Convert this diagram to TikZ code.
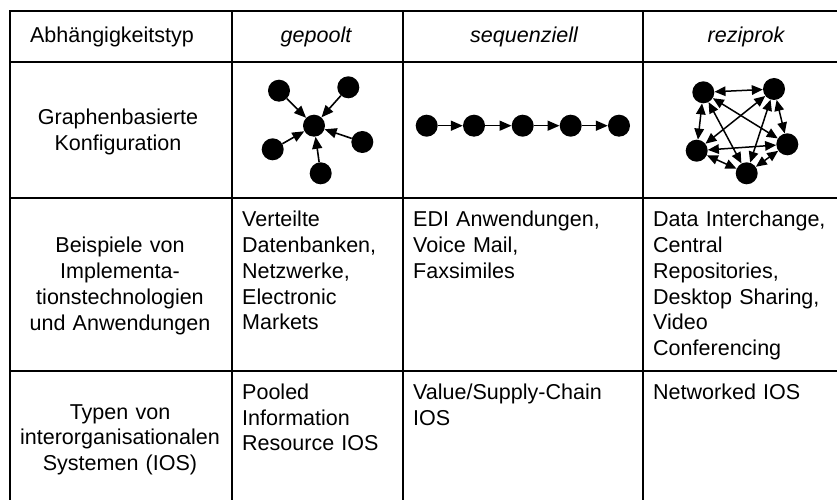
\documentclass[tikz,border=0pt]{standalone}
\usepackage{fontspec}
\setmainfont{Liberation Sans}
\usetikzlibrary{arrows.meta}

\newcommand{\cellfont}{\fontsize{21.6pt}{25.8pt}\selectfont}

\begin{document}
\begin{tikzpicture}[x=1bp,y=-1bp,
  rule/.style={line width=1.6bp,black},
  centertext/.style={inner sep=0pt,font=\cellfont,text width=215bp,align=center,anchor=base},
  headtext/.style={inner sep=0pt,font=\cellfont\itshape,anchor=base},
  lefttext/.style={inner sep=0pt,font=\cellfont,text width=260bp,align=left,anchor=base west},
  dot/.style={circle,fill=black,draw=none,inner sep=0pt,minimum size=22bp},
  link/.style={line width=1.6bp,-{Triangle[length=12bp,width=10bp]}},
  biglink/.style={line width=1.5bp,{Triangle[length=11bp,width=9.5bp]}-{Triangle[length=11bp,width=9.5bp]}}
]
\useasboundingbox (0,0) rectangle (837,500);
\clip (0,0) rectangle (837,500);

% table frame and rules
\draw[rule] (10,11) rectangle (849,503);
\draw[rule] (10,62) -- (849,62);
\draw[rule] (10,198) -- (849,198);
\draw[rule] (10,371) -- (849,371);
\draw[rule] (232,11) -- (232,503);
\draw[rule] (403,11) -- (403,503);
\draw[rule] (643,11) -- (643,503);

% header row
\node[centertext] (h0) at (112,42.5) {Abhängigkeitstyp};
\node[headtext] (h1) at (316,42.5) {gepoolt};
\node[headtext] (h2) at (524,42.5) {sequenziell};
\node[headtext] (h3) at (746,42.5) {reziprok};

% row labels
\node[centertext] (l1) at (118,124.5) {Graphenbasierte\\Konfiguration};
\node[centertext] (l2) at (120,253) {Beispiele von\\Implementa-\\tionstechnologien\\und Anwendungen};
\node[centertext] (l3) at (120,419) {Typen von\\interorganisationalen\\Systemen (IOS)};

% pooled: star towards a central node
\node[dot] (sc) at (314,125.7) {};
\node[dot] (s1) at (279,90.7) {};
\node[dot] (s2) at (348.3,87.3) {};
\node[dot] (s3) at (362.3,142) {};
\node[dot] (s4) at (320.7,173.3) {};
\node[dot] (s5) at (272.7,149.3) {};
\foreach \s in {s1,s2,s3,s4,s5} \draw[link] (\s) -- (sc);

% sequential: chain
\node[dot] (q1) at (426.7,125.7) {};
\node[dot] (q2) at (474,125.7) {};
\node[dot] (q3) at (522.7,125.7) {};
\node[dot] (q4) at (570.7,125.7) {};
\node[dot] (q5) at (619,125.7) {};
\draw[link] (q1) -- (q2);
\draw[link] (q2) -- (q3);
\draw[link] (q3) -- (q4);
\draw[link] (q4) -- (q5);

% reciprocal: complete graph
\node[dot] (r1) at (703.3,92.3) {};
\node[dot] (r2) at (774,89) {};
\node[dot] (r3) at (787.3,144.3) {};
\node[dot] (r4) at (746.7,173.3) {};
\node[dot] (r5) at (696.7,150.7) {};
\draw[biglink] (r1) -- (r2);
\draw[biglink] (r1) -- (r3);
\draw[biglink] (r1) -- (r4);
\draw[biglink] (r1) -- (r5);
\draw[biglink] (r2) -- (r3);
\draw[biglink] (r2) -- (r4);
\draw[biglink] (r2) -- (r5);
\draw[biglink] (r3) -- (r4);
\draw[biglink] (r3) -- (r5);
\draw[biglink] (r4) -- (r5);

% examples
\node[lefttext] (e1) at (242,227) {Verteilte\\Datenbanken,\\Netzwerke,\\Electronic\\Markets};
\node[lefttext] (e2) at (413,227) {EDI Anwendungen,\\Voice Mail,\\Faxsimiles};
\node[lefttext] (e3) at (653,227) {Data Interchange,\\Central\\Repositories,\\Desktop Sharing,\\Video\\Conferencing};

% system types
\node[lefttext] (t1) at (242,399.5) {Pooled\\Information\\Resource IOS};
\node[lefttext] (t2) at (413,399.5) {Value/Supply-Chain\\IOS};
\node[lefttext] (t3) at (653,399.5) {Networked IOS};
\end{tikzpicture}
\end{document}
